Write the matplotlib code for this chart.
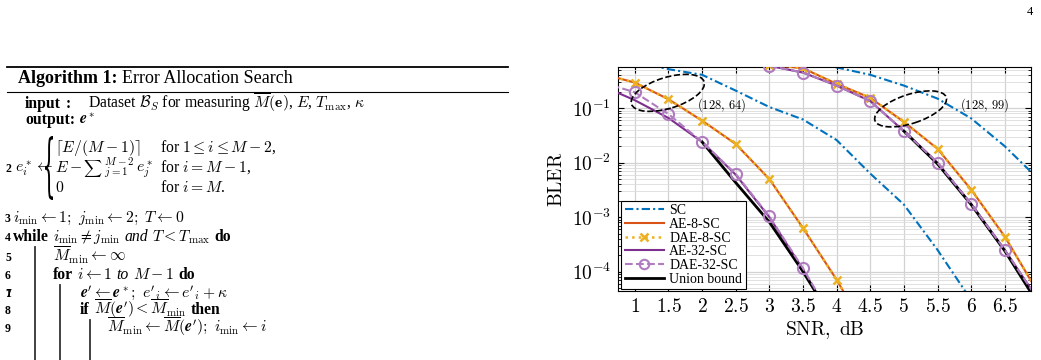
import numpy as np
import matplotlib
matplotlib.use("Agg")
import matplotlib.pyplot as plt
from matplotlib.patches import Ellipse, PathPatch
from matplotlib.lines import Line2D
from matplotlib.transforms import ScaledTranslation, Affine2D, IdentityTransform
from matplotlib.textpath import TextPath
from matplotlib.font_manager import FontProperties
from matplotlib.mathtext import MathTextParser

W, H = 1041, 360
plt.rcParams['font.family'] = ['Liberation Serif', 'DejaVu Serif']
plt.rcParams['mathtext.fontset'] = 'cm'

nan = np.nan
snr = [0.5, 1.0, 1.5, 2.0, 2.5, 3.0, 3.5, 4.0, 4.5, 5.0, 5.5, 6.0, 6.5, 7.0]

# (128, 64)
sc_64    = [0.85, 0.72, 0.52, 0.41, 0.21, 0.105, 0.062, 0.026, 6.3e-3, 1.7e-3, 2.5e-4, 3e-5, nan, nan]
ae8_64   = [0.43, 0.295, 0.146, 0.059, 0.022, 5.0e-3, 6.3e-4, 7.1e-5, 6e-6, nan, nan, nan, nan, nan]
dae8_64  = [0.43, 0.295, 0.146, 0.059, 0.022, 5.0e-3, 6.3e-4, 7.1e-5, 6e-6, nan, nan, nan, nan, nan]
ae32_64  = [0.26, 0.14, 0.066, 0.024, 6.0e-3, 1.0e-3, 1.1e-4, 9e-6, nan, nan, nan, nan, nan, nan]
dae32_64 = [0.30, 0.196, 0.078, 0.024, 6.2e-3, 1.03e-3, 1.15e-4, 1e-5, nan, nan, nan, nan, nan, nan]
ub_64    = [nan, nan, nan, 0.024, 4.3e-3, 8.1e-4, 1.0e-4, 1e-5, nan, nan, nan, nan, nan, nan]

# (128, 99)
sc_99    = [nan, nan, nan, nan, nan, nan, 0.75, 0.56, 0.41, 0.26, 0.15, 0.065, 0.02, 5e-3]
ae8_99   = [nan, nan, nan, nan, nan, 0.63, 0.54, 0.28, 0.155, 0.056, 0.018, 3.2e-3, 4.4e-4, 4e-5]
dae8_99  = [nan, nan, nan, nan, nan, 0.63, 0.54, 0.28, 0.155, 0.056, 0.018, 3.2e-3, 4.4e-4, 4e-5]
ae32_99  = [nan, nan, nan, nan, nan, 0.60, 0.45, 0.26, 0.135, 0.038, 0.010, 1.75e-3, 2.5e-4, 3e-5]
dae32_99 = [nan, nan, nan, nan, nan, 0.60, 0.45, 0.26, 0.135, 0.038, 0.010, 1.75e-3, 2.5e-4, 3e-5]
ub_99    = [nan, nan, nan, nan, nan, nan, nan, nan, nan, 0.038, 9.5e-3, 1.7e-3, 2.4e-4, 2.5e-5]

xticks = [1, 1.5, 2, 2.5, 3, 3.5, 4, 4.5, 5, 5.5, 6, 6.5]
yticks = [1e-4, 1e-3, 1e-2, 1e-1]
ylabels = [r'$10^{-4}$', r'$10^{-3}$', r'$10^{-2}$', r'$10^{-1}$']

blue, orange, yellow = '#0072BD', '#D95319', '#EDB120'
purple, lpurple = '#7E2F8E', '#B07CC0'

fig = plt.figure(figsize=(W / 100, H / 100), dpi=100)
ax = fig.add_axes([618 / W, 1 - 291 / H, (1031 - 618) / W, (291 - 67) / H])
ax.set_yscale('log')

sty = {
    'SC': dict(color=blue, ls=(0, (4, 1.5, 1, 1.5)), lw=1.5),
    'AE-8-SC': dict(color=orange, ls='-', lw=1.5),
    'DAE-8-SC': dict(color=yellow, ls=':', lw=1.8, marker='x', ms=6, mew=1.8),
    'AE-32-SC': dict(color=purple, ls='-', lw=1.5),
    'DAE-32-SC': dict(color=lpurple, ls='--', lw=1.5, marker='o', ms=8, mew=1.5, mfc='none'),
    'Union bound': dict(color='k', ls='-', lw=2.0),
}
series = [('SC', sc_64, sc_99, 2), ('AE-8-SC', ae8_64, ae8_99, 3),
          ('DAE-8-SC', dae8_64, dae8_99, 4), ('AE-32-SC', ae32_64, ae32_99, 5),
          ('Union bound', ub_64, ub_99, 6), ('DAE-32-SC', dae32_64, dae32_99, 7)]
for name, a, b, z in series:
    ax.plot(snr, a, zorder=z, **sty[name])
    ax.plot(snr, b, zorder=z, **sty[name])

ax.set_xlim(0.75, 6.89)
ax.set_ylim(4.4e-5, 0.57)
ax.set_xticks(xticks, [r'$%g$' % t for t in xticks])
ax.set_yticks(yticks, ylabels)
ax.tick_params(which='both', direction='in', top=True, right=True, labelsize=14)
ax.tick_params(which='major', length=4, pad=5)
ax.tick_params(which='minor', length=2.5)
ax.tick_params(axis='x', which='minor', bottom=False, top=False)
ax.grid(True, which='major', color='#d2d2d2', lw=0.9)
ax.grid(True, which='minor', axis='y', color='#dcdcdc', lw=0.6)
ax.set_axisbelow(True)
for s in ax.spines.values():
    s.set_linewidth(0.8)
ax.set_xlabel(r'$\mathrm{SNR,\ dB}$', fontsize=14, labelpad=2)
ax.set_ylabel(r'$\mathrm{BLER}$', fontsize=14, labelpad=4)

handles = [Line2D([], [], label=n, **sty[n]) for n in
           ['SC', 'AE-8-SC', 'DAE-8-SC', 'AE-32-SC', 'DAE-32-SC', 'Union bound']]
leg = ax.legend(handles=handles, loc='lower left', bbox_to_anchor=(0.008, 0.008),
                borderaxespad=0, fancybox=False, edgecolor='k', framealpha=1,
                fontsize=10, handlelength=2.8, handletextpad=0.4, labelspacing=0.05,
                borderpad=0.25, markerscale=0.85)
leg.get_frame().set_linewidth(0.8)
leg.set_zorder(10)


def ring(x, y, w, h, ang):
    tr = fig.dpi_scale_trans + ScaledTranslation(x, y, ax.transData)
    ax.add_artist(Ellipse((0, 0), w / 100, h / 100, angle=ang, transform=tr,
                          fill=False, ls='--', lw=1.2, ec='k', clip_on=False, zorder=8))


ring(1.49, 0.191, 76, 31, 17)
ring(5.10, 0.097, 75, 29, 18)
ax.text(2.29, 0.115, r'$(128,\,64)$', fontsize=9, ha='center', va='center', zorder=9)
ax.text(6.20, 0.115, r'$(128,\,99)$', fontsize=9, ha='center', va='center', zorder=9)

# ---- algorithm box on the left ----
_p = MathTextParser('path')


def ok(s):
    try:
        _p.parse(s)
        return True
    except Exception:
        return False


BE = r'\boldsymbol{e}' if ok(r'$\boldsymbol{e}$') else r'\mathbf{e}'
SUM = r'{\sum}' if ok(r'${\sum}_{j=1}^{M-2}$') else r'\Sigma'
renderer = fig.canvas.get_renderer()
FS = 11.3


def put(x, y, s, size=FS, **kw):
    t = fig.text(x / W, 1 - y / H, s, fontsize=size, va='baseline', ha='left', **kw)
    return x + t.get_window_extent(renderer).width


def row(x, y, parts, gap=4):
    for s, st in parts:
        kw = {}
        if st == 'b':
            kw['fontweight'] = 'bold'
        if st == 'i':
            kw['fontstyle'] = 'italic'
        x = put(x, y, s, **kw) + gap


def num(y, s):
    put(5, y, s, size=8.5, fontweight='bold')


def brace(x0, x1, y_top, y_bot):
    tp = TextPath((0, 0), '{', size=20, prop=FontProperties(family='DejaVu Serif'))
    e = tp.get_extents()
    tr = (Affine2D().translate(-e.x0, -e.y0)
          .scale((x1 - x0) / e.width, (y_bot - y_top) / e.height)
          .translate(x0, H - y_bot))
    fig.add_artist(PathPatch(tr.transform_path(tp), transform=IdentityTransform(),
                             fc='k', ec='none'))


fig.text(1030 / W, 1 - 12 / H, '4', fontsize=9, ha='center', va='center')

fig.add_artist(Line2D([7 / W, 508 / W], [1 - 67 / H] * 2, color='k', lw=1.3))
fig.add_artist(Line2D([7 / W, 508 / W], [1 - 92 / H] * 2, color='k', lw=0.8))
x = put(18, 83, 'Algorithm 1:', size=13, fontweight='bold')
put(x + 5, 83, 'Error Allocation Search', size=13)

put(25, 108, 'input', fontweight='bold')
put(66, 108, ':', fontweight='bold')
put(88, 108, r'Dataset $\mathcal{B}_S$ for measuring $\overline{M}(\mathbf{e})$, $E$, $T_{\max}$, $\kappa$')
row(25, 124, [('output:', 'b'), (r'$%s^*$' % BE, 'r')])

brace(45, 53, 136, 200)
put(55, 152, r'$\lceil E/(M-1)\rceil$')
put(160, 152, r'for $1 \leq i \leq M-2$,')
num(172, '2')
put(15, 172, r'$e_i^* \leftarrow$')
x = put(55, 172, r'$E-$')
x = put(x + 1, 173, r'$\sum$', size=FS * 0.8)
put(x + 1, 172, r'$_{j=1}^{M-2}\,e_j^*$')
put(160, 172, r'for $i = M-1$,')
put(55, 192, r'$0$')
put(160, 192, r'for $i = M$.')

rows_y = [222, 241, 261, 279, 297, 314, 332]
num(rows_y[0], '3')
put(13, rows_y[0], r'$i_{\min} \leftarrow 1;\ j_{\min} \leftarrow 2;\ T \leftarrow 0$')
num(rows_y[1], '4')
row(13, rows_y[1], [('while', 'b'), (r'$i_{\min} \neq j_{\min}$', 'r'), ('and', 'i'),
                    (r'$T < T_{\max}$', 'r'), ('do', 'b')])
num(rows_y[2], '5')
put(53, rows_y[2], r'$\overline{M}_{\min} \leftarrow \infty$')
num(rows_y[3], '6')
row(53, rows_y[3], [('for', 'b'), (r'$i \leftarrow 1$', 'r'), ('to', 'i'),
                    (r'$M-1$', 'r'), ('do', 'b')])
num(rows_y[4], '1')
num(rows_y[4], '7')
put(80, rows_y[4], r"$%s' \leftarrow %s^*;\ e'_i \leftarrow e'_i + \kappa$" % (BE, BE))
num(rows_y[5], '8')
row(80, rows_y[5], [('if', 'b'), (r"$\overline{M}(%s') < \overline{M}_{\min}$" % BE, 'r'),
                    ('then', 'b')])
num(rows_y[6], '9')
put(107, rows_y[6], r"$\overline{M}_{\min} \leftarrow \overline{M}(%s');\ i_{\min} \leftarrow i$" % BE)

for xb, y0 in [(35, 247), (60, 285), (90, 320)]:
    fig.add_artist(Line2D([xb / W] * 2, [1 - y0 / H, 0], color='#333333', lw=1.3))

fig.savefig('out.png', dpi=100)
